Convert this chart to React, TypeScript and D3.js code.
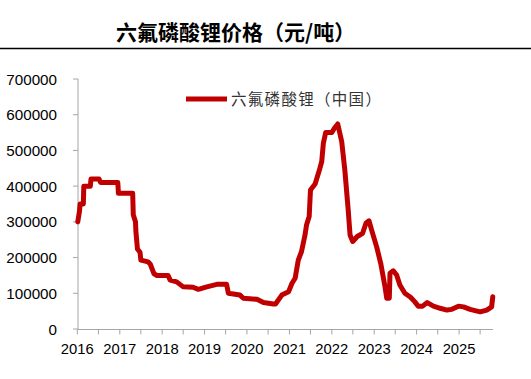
import React from "react";
import * as d3 from "d3";

const dates: string[] = [
  "2016-01-05","2016-01-20","2016-01-25","2016-02-22","2016-02-26","2016-04-22","2016-04-28","2016-07-06",
  "2016-07-20","2016-12-15","2016-12-20","2017-04-22","2017-04-27","2017-05-16","2017-05-20","2017-06-02",
  "2017-06-24","2017-07-01","2017-08-07","2017-09-01","2017-09-20","2017-10-22","2017-11-14","2018-02-20",
  "2018-03-11","2018-05-06","2018-07-01","2018-09-24","2018-11-08","2019-01-20","2019-04-16","2019-07-10",
  "2019-07-25","2019-11-02","2019-12-01","2020-03-27","2020-05-22","2020-08-16","2020-09-03","2020-10-27",
  "2020-12-24","2021-01-23","2021-02-19","2021-03-18","2021-04-15","2021-05-15","2021-05-28","2021-06-20",
  "2021-07-01","2021-08-10","2021-09-16","2021-10-06","2021-10-20","2021-11-09","2022-01-01","2022-01-23",
  "2022-02-21","2022-03-27","2022-04-23","2022-05-22","2022-06-07","2022-06-30","2022-08-08","2022-09-23",
  "2022-10-22","2022-11-17","2022-12-10","2023-01-22","2023-02-26","2023-04-04","2023-04-19","2023-05-11",
  "2023-05-17","2023-06-14","2023-07-13","2023-08-10","2023-09-22","2023-11-10","2023-12-17","2024-01-15",
  "2024-02-22","2024-04-02","2024-05-25","2024-07-22","2024-09-18","2024-10-30","2024-12-27","2025-02-08",
  "2025-04-06","2025-07-01","2025-08-27","2025-10-08","2025-10-18"
];

const prices: number[] = [
  300000,330000,350000,350000,400000,400000,420000,420000,
  410000,410000,380000,380000,320000,300000,272000,224000,
  215000,193000,190000,188000,182000,155000,150000,150000,
  137000,132000,118000,117000,111000,118000,125000,125000,
  100000,95000,86000,83000,74000,70000,70000,95000,
  104000,128000,142000,193000,217000,263000,291000,315000,
  389000,406000,445000,469000,520000,550000,550000,562000,
  574000,525000,445000,333000,263000,245000,259000,268000,
  296000,303000,277000,230000,184000,118000,86000,86000,
  156000,163000,151000,123000,100000,89000,76000,64000,
  64000,74000,64000,58000,53000,55000,64000,62000,
  55000,48000,53000,62000,90000
];

const yTicks: number[] = [0, 100000, 200000, 300000, 400000, 500000, 600000, 700000];
const yearLabels: string[] = ["2016","2017","2018","2019","2020","2021","2022","2023","2024","2025"];

const title = "六氟磷酸锂价格（元/吨）";
const seriesName = "六氟磷酸锂（中国）";

export default function App() {
  const parse = d3.timeParse("%Y-%m-%d");
  const data = dates.map((d, i) => ({ date: parse(d) as Date, value: prices[i] }));

  const x = d3
    .scaleTime()
    .domain([new Date(2016, 0, 1), new Date(2025, 9, 20)])
    .range([77.3, 493]);
  const y = d3.scaleLinear().domain([0, 700000]).range([329, 79]);

  const halfTicks: Date[] = [];
  for (let yr = 2016; yr <= 2025; yr++) {
    halfTicks.push(new Date(yr, 0, 1));
    halfTicks.push(new Date(yr, 6, 1));
  }

  const line = d3
    .line<{ date: Date; value: number }>()
    .x((d) => x(d.date))
    .y((d) => y(d.value));

  const axisColor = "#a6a6a6";
  const font = "'Liberation Sans', Arial, sans-serif";

  return (
    <svg
      width={531}
      height={379}
      style={{ position: "absolute", left: 0, top: 0, background: "#fff" }}
    >
      <rect x={0} y={0} width={531} height={379} fill="#fff" />
      <text
        x={116}
        y={40}
        fontFamily="'Noto Sans CJK SC', sans-serif"
        fontWeight={700}
        fontSize={21}
        fill="#000"
      >
        {title}
      </text>
      <line x1={0} x2={531} y1={48.5} y2={48.5} stroke="#000" strokeWidth={1.3} />

      {/* y axis */}
      <line x1={78} x2={78} y1={y(700000)} y2={y(0)} stroke={axisColor} strokeWidth={1} />
      {yTicks.map((t) => (
        <g key={t}>
          <line x1={73} x2={78} y1={y(t)} y2={y(t)} stroke={axisColor} strokeWidth={1} />
          <text
            x={57}
            y={y(t) + 5.5}
            textAnchor="end"
            fontFamily={font}
            fontSize={15.2}
            fill="#000"
          >
            {d3.format("d")(t)}
          </text>
        </g>
      ))}

      {/* x axis */}
      <line x1={77.3} x2={493} y1={329.5} y2={329.5} stroke={axisColor} strokeWidth={1} />
      {halfTicks.map((t, i) => (
        <line
          key={i}
          x1={x(t)}
          x2={x(t)}
          y1={329.5}
          y2={334.5}
          stroke={axisColor}
          strokeWidth={1}
        />
      ))}
      {yearLabels.map((lab) => (
        <text
          key={lab}
          x={x(new Date(+lab, 0, 1))}
          y={353.5}
          textAnchor="middle"
          fontFamily={font}
          fontSize={14.8}
          fill="#000"
        >
          {lab}
        </text>
      ))}

      {/* series */}
      <path
        d={line(data) || ""}
        fill="none"
        stroke="#c00000"
        strokeWidth={5}
        strokeLinejoin="round"
        strokeLinecap="round"
      />

      {/* legend */}
      <line x1={186} x2={227} y1={99} y2={99} stroke="#c00000" strokeWidth={5} />
      <text
        x={231}
        y={104.5}
        fontFamily="'Noto Sans CJK SC', sans-serif"
        fontSize={15.5}
        letterSpacing={1.3}
        fill="#333"
      >
        {seriesName}
      </text>
    </svg>
  );
}
